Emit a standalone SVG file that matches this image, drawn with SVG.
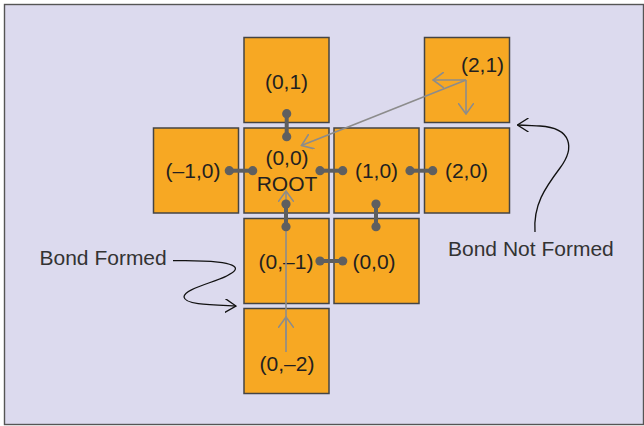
<svg xmlns="http://www.w3.org/2000/svg" width="644" height="426" viewBox="0 0 644 426">
<defs>
<style>
.sq{fill:#F7A823;stroke:#444;stroke-width:1.5}
.lbl{font-family:"Liberation Sans",Arial,sans-serif;font-size:21px;fill:#231f20;text-anchor:middle}
.note{font-family:"Liberation Sans",Arial,sans-serif;font-size:21px;fill:#333}
.bond{stroke:#5f5f5f;stroke-width:4;fill:none}
.dot{fill:#5f5f5f}
.path{stroke:#8c8c8c;stroke-width:1.6;fill:none}
.curve{stroke:#111;stroke-width:1.3;fill:none}
</style>
<marker id="ga" viewBox="0 0 12 16" refX="11" refY="8" markerWidth="12" markerHeight="16" markerUnits="userSpaceOnUse" orient="auto">
<path d="M0,0 L11,8 L0,16" fill="none" stroke="#8c8c8c" stroke-width="1.6"/>
</marker>
<marker id="ka" viewBox="0 0 12 14" refX="11" refY="7" markerWidth="12" markerHeight="14" markerUnits="userSpaceOnUse" orient="auto">
<path d="M0,0 L11,7 L0,14" fill="none" stroke="#111" stroke-width="1.3"/>
</marker>
</defs>
<rect x="4.5" y="4.5" width="639" height="420" fill="#DCDAEE" stroke="#555" stroke-width="1.4"/>
<g id="n01"><rect class="sq" x="244" y="37.5" width="85" height="85"/><text class="lbl" x="286.5" y="89">(0,1)</text></g>
<g id="n21"><rect class="sq" x="424.5" y="37.5" width="85" height="85"/><text class="lbl" x="482.5" y="72">(2,1)</text></g>
<g id="nm10"><rect class="sq" x="153.5" y="128" width="85" height="85"/><text class="lbl" x="193" y="178">(–1,0)</text></g>
<g id="n00"><rect class="sq" x="244" y="128" width="85" height="85"/><text class="lbl" x="287" y="165">(0,0)</text><text class="lbl" x="287" y="191">ROOT</text></g>
<g id="n10"><rect class="sq" x="334" y="128" width="85" height="85"/><text class="lbl" x="376.5" y="178">(1,0)</text></g>
<g id="n20"><rect class="sq" x="424.5" y="128" width="85" height="85"/><text class="lbl" x="466.5" y="178">(2,0)</text></g>
<g id="n0m1"><rect class="sq" x="244" y="218.5" width="85" height="85"/><text class="lbl" x="286" y="269">(0,–1)</text></g>
<g id="n00b"><rect class="sq" x="334" y="218.5" width="85" height="85"/><text class="lbl" x="374" y="269">(0,0)</text></g>
<g id="n0m2"><rect class="sq" x="244" y="308.5" width="85" height="85"/><text class="lbl" x="287" y="371">(0,–2)</text></g>
<g id="connectors">
<path class="path" d="M286,352 V191" marker-end="url(#ga)"/>
<path class="path" d="M286,340 V317" marker-end="url(#ga)"/>
<path class="path" d="M466,80 L301.5,145.5" marker-end="url(#ga)"/>
<path class="path" d="M466,80 H433" marker-end="url(#ga)"/>
<path class="path" d="M466,80 V114" marker-end="url(#ga)"/>
<g id="bonds">
<line class="bond" x1="286.7" y1="113.7" x2="286.7" y2="136.7"/><circle class="dot" cx="286.7" cy="113.7" r="4.6"/><circle class="dot" cx="286.7" cy="136.7" r="4.6"/>
<line class="bond" x1="229.3" y1="170.7" x2="252.7" y2="170.7"/><circle class="dot" cx="229.3" cy="170.7" r="4.6"/><circle class="dot" cx="252.7" cy="170.7" r="4.6"/>
<line class="bond" x1="320" y1="170.7" x2="342.7" y2="170.7"/><circle class="dot" cx="320" cy="170.7" r="4.6"/><circle class="dot" cx="342.7" cy="170.7" r="4.6"/>
<line class="bond" x1="410" y1="170.7" x2="432.7" y2="170.7"/><circle class="dot" cx="410" cy="170.7" r="4.6"/><circle class="dot" cx="432.7" cy="170.7" r="4.6"/>
<line class="bond" x1="286" y1="204" x2="286" y2="226.7"/><circle class="dot" cx="286" cy="204" r="4.6"/><circle class="dot" cx="286" cy="226.7" r="4.6"/>
<line class="bond" x1="376" y1="204" x2="376" y2="226.7"/><circle class="dot" cx="376" cy="204" r="4.6"/><circle class="dot" cx="376" cy="226.7" r="4.6"/>
<line class="bond" x1="320" y1="261" x2="342.7" y2="261"/><circle class="dot" cx="320" cy="261" r="4.6"/><circle class="dot" cx="342.7" cy="261" r="4.6"/>
</g>
<path class="curve" d="M173,260.7 C205,260 240,262 235,270 C229,280 184,287 184,297 C185,305 212,305 236,306" marker-end="url(#ka)"/>
<path class="curve" d="M535,232 C533,205 545,188 560,168 C575,148 572,128 540,126 C530,125.5 524,125 517.5,125" marker-end="url(#ka)"/>
</g>
<text class="note" x="39.5" y="265">Bond Formed</text>
<text class="note" x="448" y="255.5">Bond Not Formed</text>
</svg>
